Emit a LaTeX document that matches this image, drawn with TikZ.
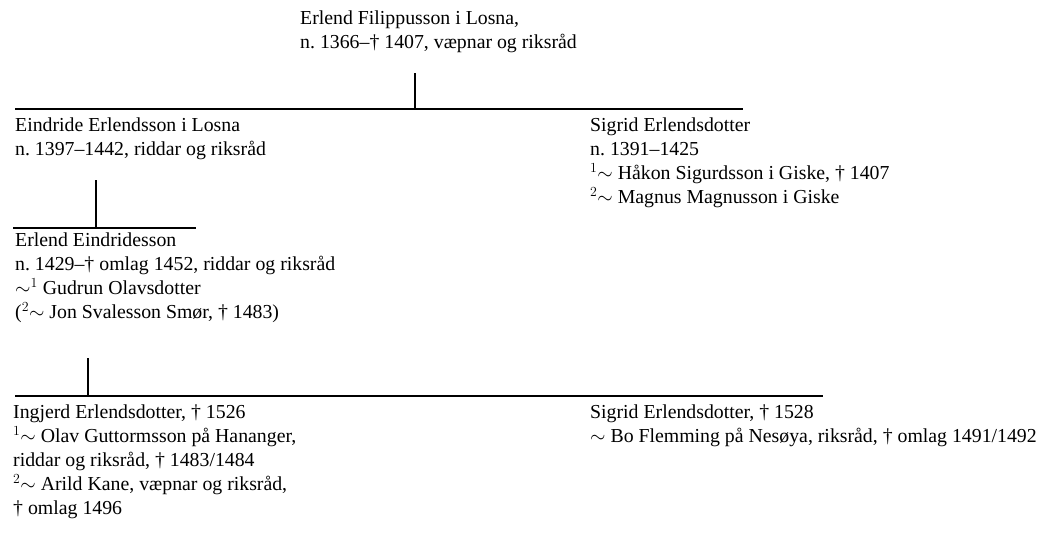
\documentclass[tikz,border=0pt]{standalone}
\usepackage{fix-cm}
\usepackage{fontspec}
\setmainfont{Liberation Serif}
\frenchspacing
\tikzset{
  person/.style={anchor=north west, inner sep=0pt, align=left,
    font=\fontsize{19.8}{24}\selectfont},
  bar/.style={line width=2pt},
}
\newcommand{\fs}{\strut}
\newcommand{\mrg}[1]{${}^{#1}{\sim}$}
\begin{document}
\begin{tikzpicture}[x=1pt,y=-1pt]
\useasboundingbox (0,0) rectangle (1051,544);
% people
\node[person] (erlf) at (300,7.2) {\fs Erlend Filippusson i Losna,\\ n. 1366–† 1407, væpnar og riksråd};
\node[person] (eind) at (15,114.2) {\fs Eindride Erlendsson i Losna\\ n. 1397–1442, riddar og riksråd};
\node[person] (sig1) at (590,114.2) {\fs Sigrid Erlendsdotter\\ n. 1391–1425\\ \mrg{1} Håkon Sigurdsson i Giske, † 1407\\ \mrg{2} Magnus Magnusson i Giske};
\node[person] (erle) at (15,229.8) {\fs Erlend Eindridesson\\ n. 1429–† omlag 1452, riddar og riksråd\\ ${\sim}^1$ Gudrun Olavsdotter\\ (\mrg{2} Jon Svalesson Smør, † 1483)};
\node[person] (ingj) at (13,401.2) {\fs Ingjerd Erlendsdotter, † 1526\\ \mrg{1} Olav Guttormsson på Hananger,\\ riddar og riksråd, † 1483/1484\\ \mrg{2} Arild Kane, væpnar og riksråd,\\ † omlag 1496};
\node[person] (sig2) at (590,401.2) {\fs Sigrid Erlendsdotter, † 1528\\ ${\sim}$ Bo Flemming på Nesøya, riksråd, † omlag 1491/1492};
% bars
\coordinate (b1l) at (15,109);  \coordinate (b1r) at (743,109);
\coordinate (b2l) at (13,228);  \coordinate (b2r) at (196,228);
\coordinate (b3l) at (15,396);  \coordinate (b3r) at (823,396);
\coordinate (v1t) at (415,73);  \coordinate (v1b) at (415,109);
\coordinate (v2t) at (96,180);  \coordinate (v2b) at (96,228);
\coordinate (v3t) at (88,358);  \coordinate (v3b) at (88,396);
\draw[bar] (b1l) -- (b1r);
\draw[bar] (b2l) -- (b2r);
\draw[bar] (b3l) -- (b3r);
\draw[bar] (v1t) -- (v1b);
\draw[bar] (v2t) -- (v2b);
\draw[bar] (v3t) -- (v3b);
\end{tikzpicture}
\end{document}
